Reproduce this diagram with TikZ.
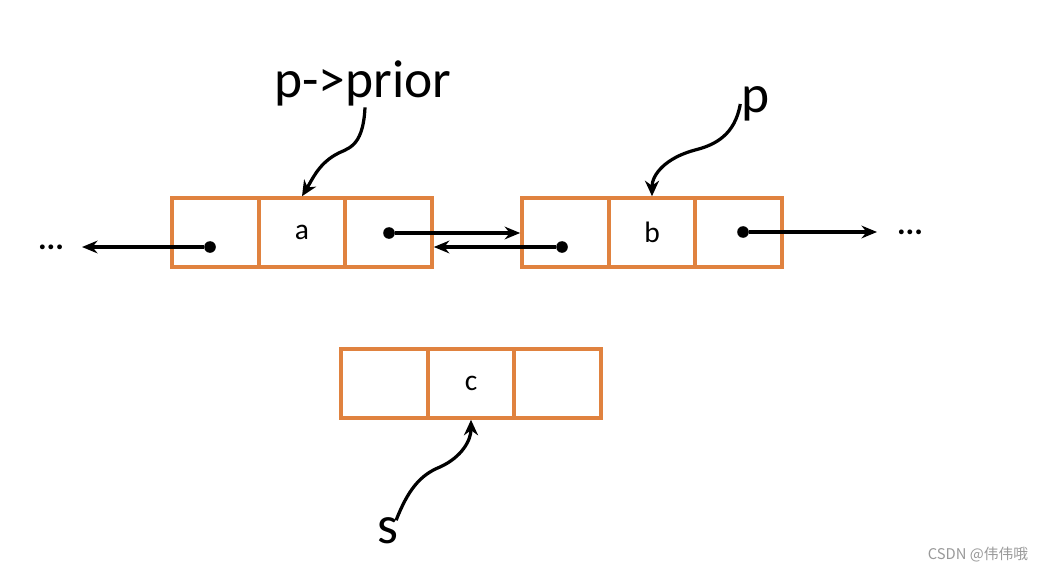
\documentclass[tikz,border=0pt]{standalone}
\usepackage{fontspec}
\setmainfont{Carlito}
\newfontfamily\cjkfont{Noto Sans CJK SC}
\usetikzlibrary{arrows.meta}

\definecolor{boxorange}{HTML}{E0823F}

\begin{document}
\begin{tikzpicture}[x=0.025cm,y=-0.025cm,
    cell/.style={shape=rectangle, draw=boxorange, line width=0.09cm,
        minimum width=2.175cm, minimum height=1.725cm, inner sep=0pt,
        font=\fontsize{21}{21}\selectfont},
    dot/.style={shape=circle, fill, inner sep=0pt, minimum size=0.29cm},
    link/.style={line width=2.3pt, -{Stealth[length=11pt,width=9pt]}},
    ptr/.style={line width=2.3pt, -{Stealth[length=11pt,width=10pt]}},
    big/.style={inner sep=1pt, font=\fontsize{38}{38}\selectfont},
    dots/.style={font=\bfseries\fontsize{23}{23}\selectfont}]
    \useasboundingbox (0,0) rectangle (1037,571);

    % node a
    \node[cell] (aL) at (215.5,232.5) {};
    \node[cell] (aM) at (302,232.5) {a};
    \node[cell] (aR) at (388.5,232.5) {};
    % node b
    \node[cell] (bL) at (565.5,232.5) {};
    \node[cell] (bM) at (652,232.5) {b};
    \node[cell] (bR) at (738.5,232.5) {};
    % node c
    \node[cell] (cL) at (384.5,383.5) {};
    \node[cell] (cM) at (471,383.5) {c};
    \node[cell] (cR) at (557.5,383.5) {};

    \node[dot] (aLd) at (210,247) {};
    \node[dot] (aRd) at (389,233) {};
    \node[dot] (bLd) at (562,247) {};
    \node[dot] (bRd) at (743,232) {};

    \node[dots] (ldots) at (51,247) {...};
    \node[dots] (rdots) at (910,232) {...};
    \coordinate (lend) at (82,247);
    \coordinate (rend) at (877,232);

    \draw[link] (aLd) -- (lend);
    \draw[link] (aRd) -- (aRd -| bL.west);
    \draw[link] (bLd) -- (bLd -| aR.east);
    \draw[link] (bRd) -- (rend);

    % pointers
    \node[big] (prior) at (363,83) {p->prior};
    \node[big] (pl) at (756,104) {p};
    \node[big] (sl) at (388,531) {s};

    \draw[ptr] ([xshift=0.05cm]prior.south) .. controls (363,150) and (346,148) .. (335,155)
        .. controls (318,165) and (312,180) .. (aM.north);
    \draw[ptr] (pl.west) .. controls (735,135) and (715,145) .. (695,150)
        .. controls (665,158) and (652,175) .. (bM.north);
    \draw[ptr] ([xshift=-0.1cm,yshift=-0.1cm]sl.north east) .. controls (408,490) and (420,475) .. (440,467)
        .. controls (462,457) and (471,440) .. (cM.south);

    \node[text=black!40, font=\cjkfont\fontsize{10.5}{10.5}\selectfont] (mark) at (978,555) {CSDN @伟伟哦};
  \end{tikzpicture}
\end{document}
